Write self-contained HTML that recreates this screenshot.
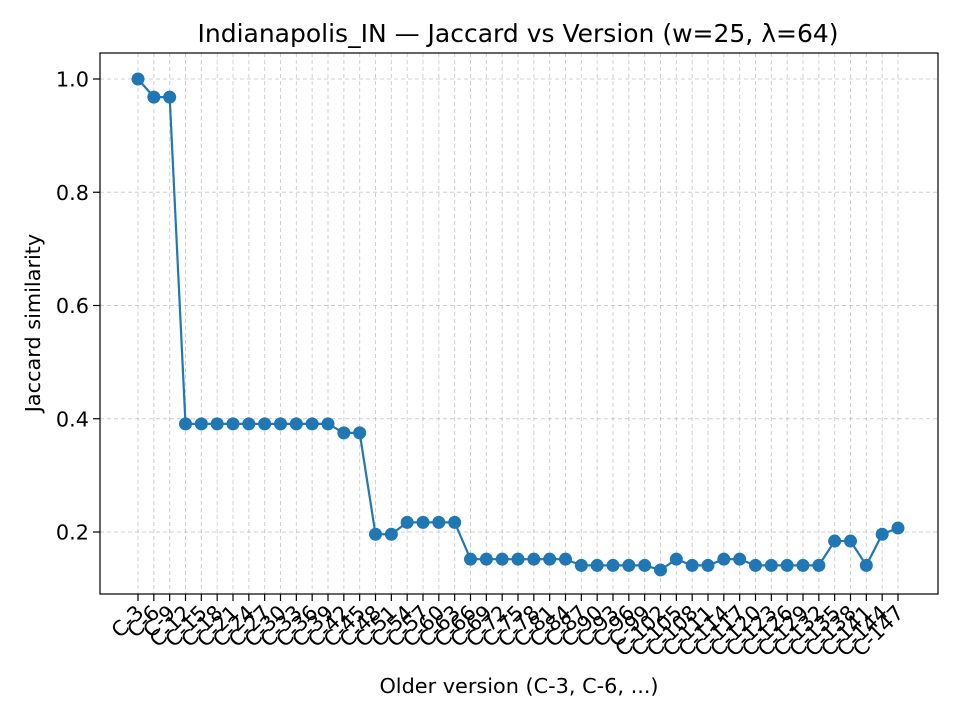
<!DOCTYPE html>
<html><head><meta charset="utf-8"><style>
body{margin:0;background:#fff;}
svg text{font-family:"DejaVu Sans","Liberation Sans",sans-serif;fill:#000;}
</style></head><body>
<svg id="chart" width="960" height="720" xmlns="http://www.w3.org/2000/svg">
<rect width="960" height="720" fill="#fff"/>
<g id="grid"></g>
<g id="xticks"></g>
<g id="yticks"></g>
<g id="series"></g>
<rect x="100" y="53" width="838" height="541" fill="none" stroke="#000" stroke-width="1.2"/>
<text x="518" y="42" font-size="25" text-anchor="middle">Indianapolis_IN — Jaccard vs Version (w=25, λ=64)</text>
<text x="519" y="693" font-size="20.8" text-anchor="middle">Older version (C-3, C-6, ...)</text>
<text transform="translate(40,323) rotate(-90)" font-size="20.8" text-anchor="middle">Jaccard similarity</text>
</svg>
<script>
const categories = [];
for (let i = 1; i <= 49; i++) categories.push('C-' + (3 * i));
const values = [1.0,0.968,0.968,
0.391,0.391,0.391,0.391,0.391,0.391,0.391,0.391,0.391,0.391,
0.375,0.375,0.196,0.196,0.217,0.217,0.217,0.217,
0.152,0.152,0.152,0.152,0.152,0.152,0.152,
0.141,0.141,0.141,0.141,0.141,0.133,0.152,0.141,0.141,0.152,0.152,
0.141,0.141,0.141,0.141,0.141,0.184,0.184,0.141,0.196,0.207];
const yTicks = [0.2,0.4,0.6,0.8,1.0];
const yTickLabels = ['0.2','0.4','0.6','0.8','1.0'];

const NS = 'http://www.w3.org/2000/svg';
const x = i => 138 + i * (898 - 138) / (categories.length - 1);
const y = v => 532 - (v - 0.2) * (532 - 79) / 0.8;
function mk(tag, attrs, parent) {
  const e = document.createElementNS(NS, tag);
  for (const k in attrs) e.setAttribute(k, attrs[k]);
  parent.appendChild(e); return e;
}
const grid = document.getElementById('grid'), xt = document.getElementById('xticks'),
      yt = document.getElementById('yticks'), ser = document.getElementById('series');
categories.forEach((c, i) => {
  const gl = mk('line', {x1:x(i),x2:x(i),y1:53,y2:594,stroke:'#b0b0b0','stroke-width':1,'stroke-dasharray':'4,3','stroke-opacity':0.6}, grid);
  
  
  const tk = mk('line', {x1:x(i),x2:x(i),y1:594,y2:601,stroke:'#000','stroke-width':1.2}, xt);
  
  
  const t = mk('text', {'font-size':20.8,'text-anchor':'end',transform:`translate(${x(i)+7},${614}) rotate(-45)`}, xt);
  t.textContent = c;
  
  
});
yTicks.forEach((v, i) => {
  const gl = mk('line', {x1:100,x2:938,y1:y(v),y2:y(v),stroke:'#b0b0b0','stroke-width':1,'stroke-dasharray':'4,3','stroke-opacity':0.6}, grid);
  
  
  const tk = mk('line', {x1:93,x2:100,y1:y(v),y2:y(v),stroke:'#000','stroke-width':1.2}, yt);
  
  
  const t = mk('text', {x:89,y:y(v)+7.5,'font-size':20.8,'text-anchor':'end'}, yt);
  t.textContent = yTickLabels[i];
  
  
});
const line = mk('polyline', {points: values.map((v,i)=>x(i)+','+y(v)).join(' '), fill:'none', stroke:'#1f77b4','stroke-width':2.2}, ser);


values.forEach((v, i) => {
  const p = mk('circle', {cx:x(i),cy:y(v),r:6.5,fill:'#1f77b4'}, ser);
  
  
});
</script>
</body></html>
